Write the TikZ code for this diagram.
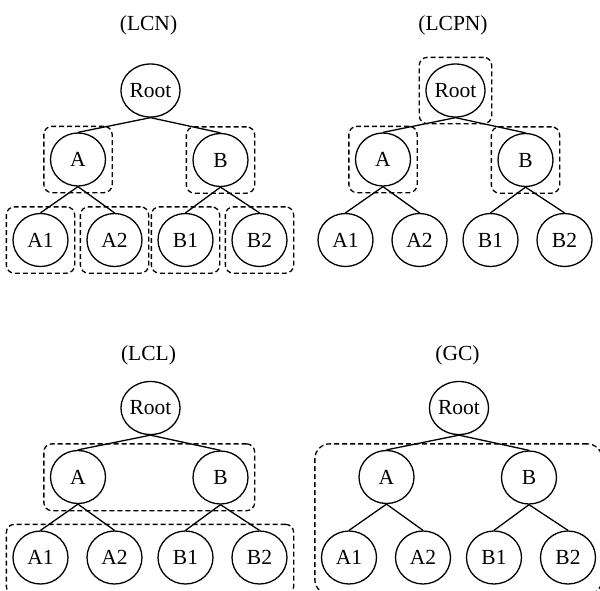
\documentclass[tikz,border=0pt]{standalone}
\usepackage{fontspec}
\setmainfont{Liberation Serif}
\usetikzlibrary{shapes.geometric,fit}

\tikzset{
  tn/.style={ellipse, draw, line width=1.3pt, minimum width=55pt, minimum height=53pt,
             inner sep=0pt, font=\fontsize{21.5}{25}\selectfont},
  edge/.style={line width=1.3pt},
  grp/.style={draw, dash pattern=on 5pt off 3pt, line width=1.3pt, rounded corners=8pt,
              inner sep=6pt},
  biggrp/.style={grp, rounded corners=15pt},
  ttl/.style={font=\fontsize{21.5}{25}\selectfont, inner sep=0pt}
}

% one binary tree: Root, A, B and the four leaves, node names prefixed by #1
\newcommand\drawtree[1]{%
  \node[tn] (#1r)  at (150.5,90.5) {Root};
  \node[tn] (#1a)  at (78,159.5)   {A};
  \node[tn] (#1b)  at (220.5,160)  {B};
  \node[tn] (#1a1) at (40.5,240)   {A1};
  \node[tn] (#1a2) at (114.5,240)  {A2};
  \node[tn] (#1b1) at (185.5,240)  {B1};
  \node[tn] (#1b2) at (259.5,240)  {B2};
  \draw[edge] (#1r.south) -- (#1a.north);
  \draw[edge] (#1r.south) -- (#1b.north);
  \draw[edge] (#1a.south) -- (#1a1.north);
  \draw[edge] (#1a.south) -- (#1a2.north);
  \draw[edge] (#1b.south) -- (#1b1.north);
  \draw[edge] (#1b.south) -- (#1b2.north);
}

\begin{document}
\begin{tikzpicture}[x=1pt, y=-1pt]
  \useasboundingbox (0,0) rectangle (600,590);

  % titles
  \node[ttl] (t1) at (148.5,25)  {(LCN)};
  \node[ttl] (t2) at (453,25)    {(LCPN)};
  \node[ttl] (t3) at (148.5,355) {(LCL)};
  \node[ttl] (t4) at (457.5,355) {(GC)};

  % LCN: one box per non-root node
  \begin{scope}
    \drawtree{p}
    \node[grp, fit=(pa)] (pga) {};
    \node[grp, fit=(pb)] (pgb) {};
    \node[grp, fit=(pa1)] (pga1) {};
    \node[grp, fit=(pa2)] (pga2) {};
    \node[grp, fit=(pb1)] (pgb1) {};
    \node[grp, fit=(pb2)] (pgb2) {};
  \end{scope}

  % LCPN: one box per parent node
  \begin{scope}[shift={(305,0)}]
    \drawtree{q}
    \node[grp, fit=(qr)] (qgr) {};
    \node[grp, fit=(qa)] (qga) {};
    \node[grp, fit=(qb)] (qgb) {};
  \end{scope}

  % LCL: one box per level; the leaf box runs past the lower page edge
  \begin{scope}[shift={(0,317.5)}]
    \drawtree{s}
    \coordinate (sbot) at (150,271);
    \node[grp, fit=(sa)(sb)] (sg1) {};
    \node[grp, fit=(sa1)(sb2)(sbot)] (sg2) {};
  \end{scope}

  % GC: one box for the whole hierarchy
  \begin{scope}[shift={(308.5,317.5)}]
    \drawtree{u}
    \coordinate (ubot) at (150,271);
    \node[biggrp, fit=(ua)(ub)(ua1)(ub2)(ubot)] (ug) {};
  \end{scope}
\end{tikzpicture}
\end{document}
